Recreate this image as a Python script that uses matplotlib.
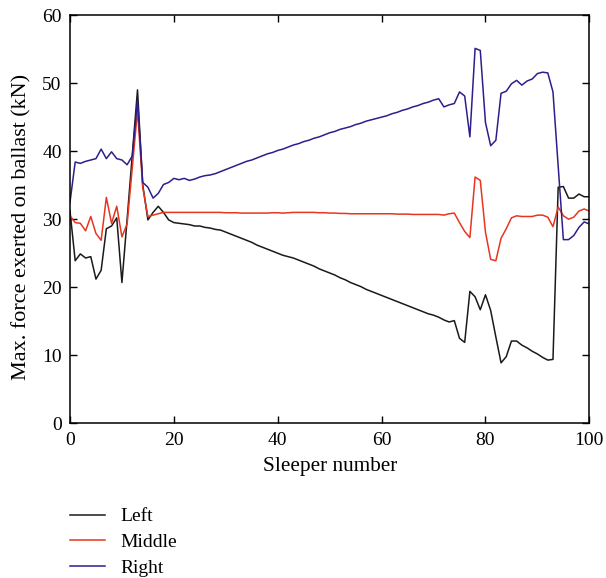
import matplotlib
matplotlib.use("Agg")
import matplotlib.pyplot as plt
import numpy as np

plt.rcParams['font.family'] = ['Liberation Serif', 'DejaVu Serif']

sleeper = np.arange(0, 101)

# values, one per sleeper (0..100)
left = [31.2, 23.9, 24.9, 24.3, 24.5, 21.2, 22.5, 28.6, 29.0, 30.2,
        20.7, 30.0, 39.5, 49.0, 35.1, 29.9, 31.0, 31.9, 31.0, 29.9,
        29.5, 29.4, 29.3, 29.2, 29.0, 29.0, 28.8, 28.7, 28.5, 28.4,
        28.1, 27.8, 27.5, 27.2, 26.9, 26.6, 26.2, 25.9, 25.6, 25.3,
        25.0, 24.7, 24.5, 24.3, 24.0, 23.7, 23.4, 23.1, 22.7, 22.4,
        22.1, 21.8, 21.4, 21.1, 20.7, 20.4, 20.1, 19.7, 19.4, 19.1,
        18.8, 18.5, 18.2, 17.9, 17.6, 17.3, 17.0, 16.7, 16.4, 16.1,
        15.9, 15.6, 15.2, 14.9, 15.1, 12.5, 11.9, 19.4, 18.6, 16.7,
        18.9, 16.6, 12.7, 8.9, 9.8, 12.1, 12.1, 11.5, 11.1, 10.6,
        10.2, 9.7, 9.3, 9.4, 34.7, 34.8, 33.1, 33.1, 33.7, 33.3,
        33.3]

middle = [30.5, 29.5, 29.4, 28.3, 30.4, 27.9, 26.9, 33.2, 29.4, 31.9,
          27.4, 29.3, 37.6, 46.0, 34.7, 30.4, 30.6, 30.8, 31.0, 31.0,
          31.0, 31.0, 31.0, 31.0, 31.0, 31.0, 31.0, 31.0, 31.0, 31.0,
          30.95, 30.95, 30.95, 30.9, 30.9, 30.9, 30.9, 30.9, 30.9, 30.95,
          30.95, 30.9, 30.95, 31.0, 31.0, 31.0, 31.0, 31.0, 30.95, 30.95,
          30.9, 30.9, 30.85, 30.85, 30.8, 30.8, 30.8, 30.8, 30.8, 30.8,
          30.8, 30.8, 30.8, 30.75, 30.75, 30.75, 30.7, 30.7, 30.7, 30.7,
          30.7, 30.7, 30.6, 30.8, 30.9, 29.5, 28.2, 27.3, 36.2, 35.7,
          28.1, 24.1, 23.9, 27.2, 28.6, 30.2, 30.5, 30.4, 30.4, 30.4,
          30.6, 30.6, 30.3, 28.9, 31.8, 30.5, 30.0, 30.3, 31.2, 31.5,
          31.2]

right = [32.5, 38.4, 38.2, 38.5, 38.7, 38.9, 40.3, 38.9, 39.9, 38.9,
         38.7, 38.0, 39.3, 47.5, 35.4, 34.7, 33.1, 33.8, 35.1, 35.4,
         36.0, 35.8, 36.0, 35.7, 35.9, 36.2, 36.4, 36.5, 36.7, 37.0,
         37.3, 37.6, 37.9, 38.2, 38.5, 38.7, 39.0, 39.3, 39.6, 39.8,
         40.1, 40.3, 40.6, 40.9, 41.1, 41.4, 41.6, 41.9, 42.1, 42.4,
         42.7, 42.9, 43.2, 43.4, 43.6, 43.9, 44.1, 44.4, 44.6, 44.8,
         45.0, 45.2, 45.5, 45.7, 46.0, 46.2, 46.5, 46.7, 47.0, 47.2,
         47.5, 47.7, 46.5, 46.8, 47.0, 48.7, 48.1, 42.1, 55.1, 54.8,
         44.2, 40.8, 41.6, 48.5, 48.8, 49.9, 50.4, 49.7, 50.3, 50.6,
         51.4, 51.6, 51.5, 48.7, 37.8, 27.0, 27.0, 27.6, 28.8, 29.6,
         29.3]

fig = plt.figure(figsize=(6.06, 5.78), dpi=100)
ax = fig.add_axes([0.1155, 0.2675, 0.857, 0.7065])

ax.plot(sleeper, left, color='#1a1a1a', lw=1.1, label='Left')
ax.plot(sleeper, middle, color='#e8351f', lw=1.1, label='Middle')
ax.plot(sleeper, right, color='#2c1f8c', lw=1.1, label='Right')

ax.set_xlim(0, 100)
ax.set_ylim(0, 60)
ax.set_xticks(np.arange(0, 101, 20))
ax.set_yticks(np.arange(0, 61, 10))
ax.tick_params(direction='in', top=True, right=True, length=5, width=1,
               labelsize=14, pad=6)
for s in ax.spines.values():
    s.set_linewidth(1.1)

ax.set_xlabel('Sleeper number', fontsize=15.3, labelpad=6)
ax.set_ylabel('Max. force exerted on ballast (kN)', fontsize=15.9)
ax.yaxis.set_label_coords(-0.075, 0.481)

fig.legend(loc='upper left', bbox_to_anchor=(0.103, 0.135), frameon=False,
           fontsize=14, handlelength=1.8, handletextpad=0.77,
           labelspacing=0.41, borderaxespad=0)

fig.savefig('out.png', dpi=100)
